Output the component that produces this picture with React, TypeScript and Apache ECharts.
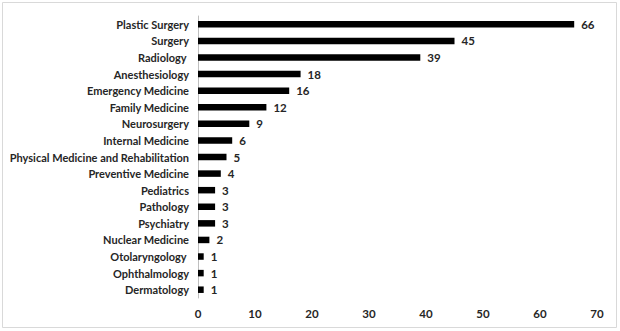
import React, { useEffect, useRef } from "react";
import * as echarts from "echarts";

const categories = [
  "Plastic Surgery",
  "Surgery",
  "Radiology ",
  "Anesthesiology",
  "Emergency Medicine",
  "Family Medicine",
  "Neurosurgery",
  "Internal Medicine",
  "Physical Medicine and Rehabilitation",
  "Preventive Medicine",
  "Pediatrics",
  "Pathology",
  "Psychiatry",
  "Nuclear Medicine",
  "Otolaryngology ",
  "Ophthalmology",
  "Dermatology",
];
const values = [66, 45, 39, 18, 16, 12, 9, 6, 5, 4, 3, 3, 3, 2, 1, 1, 1];
const xTicks = [0, 10, 20, 30, 40, 50, 60, 70];

export default function App() {
  const ref = useRef<HTMLDivElement>(null);
  useEffect(() => {
    document.body.style.margin = "0";
    const chart = echarts.init(ref.current!, null, { renderer: "svg" });
    const font = "Lato";
    chart.setOption({
      animation: false,
      backgroundColor: "#fff",
      graphic: [
        {
          type: "rect",
          shape: { x: 2.5, y: 2.5, width: 614, height: 325 },
          style: { fill: "none", stroke: "#d9d9d9", lineWidth: 1 },
          silent: true,
        },
      ],
      grid: { left: 198, right: 23, top: 16, bottom: 33, outerBoundsMode: "none", containLabel: false },
      xAxis: {
        type: "value",
        min: xTicks[0],
        max: xTicks[xTicks.length - 1],
        interval: 10,
        axisLine: { show: false },
        axisTick: { show: false },
        splitLine: { show: false },
        axisLabel: {
          fontFamily: font,
          fontWeight: "bold",
          fontSize: 11.5,
          color: "#262626",
          margin: 9,
        },
      },
      yAxis: {
        type: "category",
        inverse: true,
        data: categories,
        axisLine: { show: true, lineStyle: { color: "#bfbfbf", width: 1 } },
        axisTick: { show: false },
        axisLabel: {
          fontFamily: font,
          fontWeight: "bold",
          fontSize: 11,
          color: "#262626",
          margin: 9,
        },
      },
      series: [
        {
          type: "bar",
          data: values,
          barWidth: 6.5,
          itemStyle: { color: "#000" },
          label: {
            show: true,
            position: "right",
            distance: 7,
            fontFamily: font,
            fontWeight: "bold",
            fontSize: 11.5,
            color: "#262626",
          },
        },
      ],
    });
    return () => chart.dispose();
  }, []);
  return <div ref={ref} style={{ width: 620, height: 331 }} />;
}
